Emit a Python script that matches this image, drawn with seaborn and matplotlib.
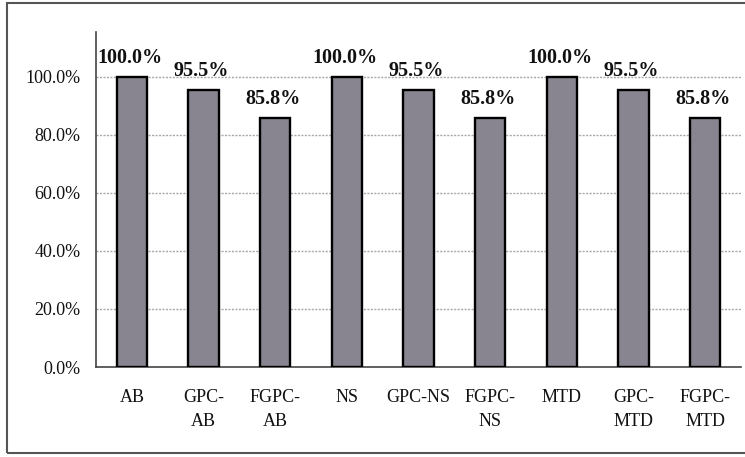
import matplotlib
matplotlib.use("Agg")
import matplotlib.pyplot as plt
import matplotlib.patches as mpatches
from matplotlib.ticker import FixedLocator, FuncFormatter
import seaborn as sns
import pandas as pd

# Recognition rate of each method
methods = ["AB", "GPC-AB", "FGPC-AB", "NS", "GPC-NS", "FGPC-NS",
           "MTD", "GPC-MTD", "FGPC-MTD"]
rates = [100.0, 95.5, 85.8, 100.0, 95.5, 85.8, 100.0, 95.5, 85.8]
tick_labels = ["AB", "GPC-\nAB", "FGPC-\nAB", "NS", "GPC-NS", "FGPC-\nNS",
               "MTD", "GPC-\nMTD", "FGPC-\nMTD"]
y_ticks = [0, 20, 40, 60, 80, 100]

df = pd.DataFrame({"method": methods, "rate": rates})

sns.set_style("white")
plt.rcParams["font.family"] = ["Liberation Serif", "DejaVu Serif"]

fig = plt.figure(figsize=(7.45, 4.57), dpi=100)
ax = fig.add_axes([96 / 745, 90 / 457, 645 / 745, 335 / 457])

sns.barplot(data=df, x="method", y="rate", order=methods, ax=ax,
            color="#898590", saturation=1, width=0.42,
            edgecolor="black", linewidth=1.7, zorder=3)

ax.set_xlim(-0.5, len(methods) - 0.5)
ax.set_ylim(0, 115.5)

# value labels above the bars
for i, v in enumerate(rates):
    ax.annotate(f"{v:.1f}%", (i, v), xytext=(-1.5, 10), textcoords="offset points",
                ha="center", va="baseline", fontsize=14.5, fontweight="bold",
                color="#111111")

# axes styling
ax.yaxis.set_major_locator(FixedLocator(y_ticks))
ax.yaxis.set_major_formatter(FuncFormatter(lambda v, p: f"{v:.1f}%"))
ax.tick_params(axis="y", length=0, pad=11, labelsize=13, labelcolor="#111111")
ax.set_xticks(range(len(methods)))
ax.set_xticklabels(tick_labels, linespacing=1.5)
ax.set_xticks([i + 0.5 for i in range(len(methods))], minor=True)
ax.tick_params(axis="x", which="major", length=0, pad=16, labelsize=13,
               labelcolor="#111111")
ax.tick_params(axis="x", which="minor", direction="in", length=4, width=1,
               color="#333333")
ax.set_xlabel("")
ax.set_ylabel("")

for y in y_ticks[1:]:
    ax.axhline(y, color="#a8a8a8", linewidth=1.0, linestyle=(0, (1.5, 1)), zorder=1)

for side in ["top", "right"]:
    ax.spines[side].set_visible(False)
ax.spines["left"].set_color("#444444")
ax.spines["bottom"].set_color("#444444")
ax.spines["left"].set_linewidth(1.2)
ax.spines["bottom"].set_linewidth(1.2)

# outer frame of the chart area
frame = mpatches.Rectangle((7 / 745, 4 / 457), 1.0, 450 / 457,
                           transform=fig.transFigure, fill=False,
                           edgecolor="#555555", linewidth=1.5, clip_on=False)
fig.patches.append(frame)

fig.savefig("out.png", dpi=100)
